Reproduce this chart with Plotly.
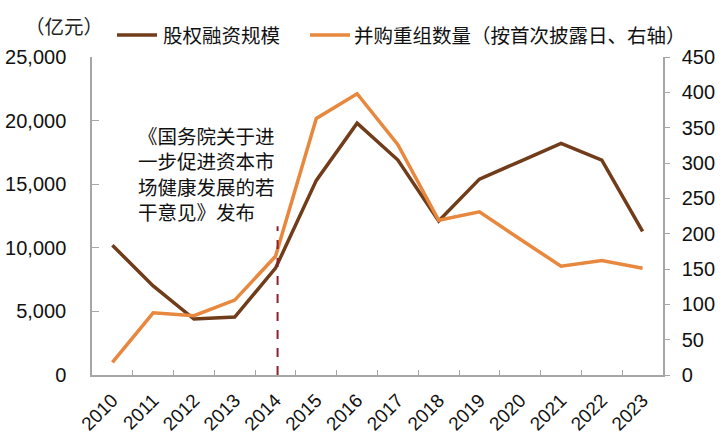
import plotly.graph_objects as go

# ---- data ----
years = [str(y) for y in range(2010, 2024)]
equity_financing = [10200, 7000, 4400, 4550, 8400, 15300, 19800, 16900, 12100, 15400, 16800, 18200, 16900, 11300]
mna_count = [18, 88, 84, 106, 168, 363, 398, 326, 219, 231, 192, 154, 162, 151]
series_names = ["股权融资规模", "并购重组数量（按首次披露日、右轴）"]
left_ticks = [0, 5000, 10000, 15000, 20000, 25000]
left_labels = ["0", "5,000", "10,000", "15,000", "20,000", "25,000"]
right_ticks = [0, 50, 100, 150, 200, 250, 300, 350, 400, 450]
event_year_index = 4.05   # 2014 policy release
event_top = 11700

BROWN = "#713C1A"
ORANGE = "#E8873E"
AXIS = "#A6A6A6"
FONT = "Liberation Sans, Arial, Noto Sans CJK SC, sans-serif"

# plot-area geometry in pixels (for paper-coordinate helpers)
L, R, T, B = 92, 663, 57, 375
W, H = R - L, B - T


def px_x(px):
    return (px - L) / W


def px_y(py):
    return (B - py) / H


fig = go.Figure()
fig.add_trace(go.Scatter(
    x=years, y=equity_financing, name=series_names[0], mode="lines",
    line=dict(color=BROWN, width=3.5)))
fig.add_trace(go.Scatter(
    x=years, y=mna_count, name=series_names[1], mode="lines",
    yaxis="y2", line=dict(color=ORANGE, width=3.5)))

fig.add_shape(type="line", xref="x", yref="y",
              x0=event_year_index, x1=event_year_index, y0=0, y1=event_top,
              line=dict(color="#8B2030", width=2, dash="dash"))

fig.add_annotation(
    text="《国务院关于进<br>一步促进资本市<br>场健康发展的若<br>干意见》发布",
    xref="paper", yref="paper", x=px_x(136), y=px_y(175),
    xanchor="left", yanchor="middle", align="left", showarrow=False,
    font=dict(size=19.5, color="#111111", family=FONT))

fig.add_annotation(
    text="（亿元）", xref="paper", yref="paper",
    x=px_x(64), y=px_y(27), xanchor="center", yanchor="middle",
    showarrow=False, font=dict(size=19.5, color="#222222", family=FONT))

# manual legend (line samples + labels)
legend_items = [(117, 157, 161, BROWN, series_names[0]),
                (310, 350, 352, ORANGE, series_names[1])]
for x0, x1, xt, col, name in legend_items:
    fig.add_shape(type="line", xref="paper", yref="paper",
                  x0=px_x(x0), x1=px_x(x1), y0=px_y(35), y1=px_y(35),
                  line=dict(color=col, width=3.5))
    fig.add_annotation(text=name, xref="paper", yref="paper",
                       x=px_x(xt), y=px_y(36), xanchor="left", yanchor="middle",
                       showarrow=False,
                       font=dict(size=19.5, color="#111111", family=FONT))

fig.update_layout(
    width=725, height=440,
    margin=dict(l=L, r=725 - R, t=T, b=440 - B, autoexpand=False),
    paper_bgcolor="white", plot_bgcolor="white",
    font=dict(family=FONT, size=20, color="#111111"),
    showlegend=False,
    xaxis=dict(type="category", range=[-0.5, 13.5], tickson="boundaries",
               ticks="inside", ticklen=5, tickcolor=AXIS, tickwidth=1,
               showline=True, linecolor=AXIS, linewidth=1.5,
               showgrid=False, zeroline=False, tickangle=-45,
               ticklabelstandoff=5, automargin=False,
               tickfont=dict(size=19, family=FONT, color="#111111")),
    yaxis=dict(range=[0, 25000], tickvals=left_ticks, ticktext=left_labels,
               ticks="inside", ticklen=7, tickcolor=AXIS, tickwidth=1,
               showline=True, linecolor=AXIS, linewidth=1.5,
               showgrid=False, zeroline=False, ticklabelstandoff=20,
               automargin=False,
               tickfont=dict(size=20, family=FONT, color="#111111")),
    yaxis2=dict(range=[0, 450], tickvals=right_ticks, overlaying="y", side="right",
                ticks="outside", ticklen=5, tickcolor=AXIS, tickwidth=1,
                showline=True, linecolor=AXIS, linewidth=1.5,
                showgrid=False, zeroline=False, ticklabelstandoff=8,
                automargin=False,
                tickfont=dict(size=20, family=FONT, color="#111111")),
)

fig.write_html("out.html", config={"displayModeBar": False},
               post_script="document.body.style.margin='0';document.body.style.padding='0';")
